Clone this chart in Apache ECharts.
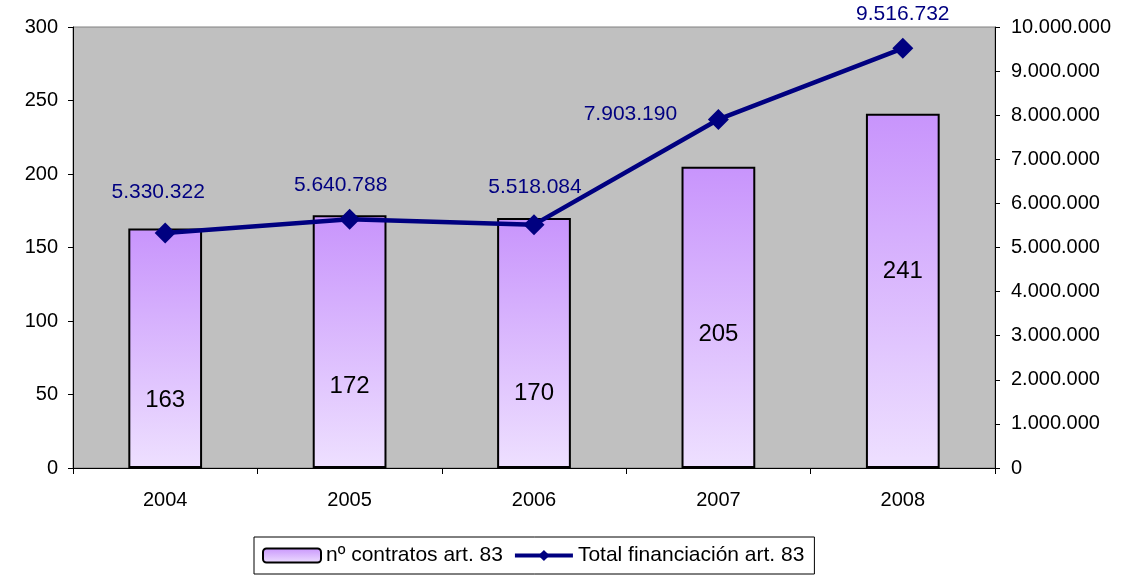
<!DOCTYPE html>
<html><head><meta charset="utf-8">
<script src="https://cdn.jsdelivr.net/npm/echarts@6/dist/echarts.min.js"></script>
<style>html,body{margin:0;padding:0;background:#fff}#c{width:1131px;height:575px}</style>
</head><body><div id="c"></div>
<script>
const years = ['2004','2005','2006','2007','2008'];
const contratos = [163, 172, 170, 205, 241];
const financiacion = [5330322, 5640788, 5518084, 7903190, 9516732];
const barLabelOffsets = [[0,52],[0,45],[0,50],[0,17],[0,-19]];
const lineLabelOffsets = [[-7,0],[-9,7],[1,4],[-88,36],[0,7]];

function fmt(v){ return String(Math.round(v)).replace(/\B(?=(\d{3})+(?!\d))/g,'.'); }
const FONT = '"Liberation Sans", Arial, sans-serif';
const chart = echarts.init(document.getElementById('c'), null, {renderer:'canvas'});
chart.setOption({
  animation:false,
  textStyle:{fontFamily:FONT},
  grid:{left:73,right:136,top:27,bottom:107,show:true,backgroundColor:'#c0c0c0',borderColor:'#808080',borderWidth:1},
  legend:{
    bottom:1,left:254,
    borderColor:'#000',borderWidth:1,padding:[8,10,8,8],itemGap:10,
    itemWidth:58,itemHeight:14,
    textStyle:{fontSize:21,color:'#000',fontFamily:FONT},
    data:[{name:'nº contratos art. 83'},{name:'Total financiación art. 83',lineStyle:{width:4}}]
  },
  xAxis:{type:'category',data:years,
    axisLine:{lineStyle:{color:'#000',width:1}},
    axisTick:{show:true,length:6,lineStyle:{color:'#000'},alignWithLabel:false},
    axisLabel:{fontSize:20,color:'#000',margin:22,fontFamily:FONT}},
  yAxis:[
    {type:'value',min:0,max:300,interval:50,
      axisLine:{show:true,lineStyle:{color:'#000'}},
      axisTick:{show:true,length:5,lineStyle:{color:'#000'}},
      splitLine:{show:false},
      axisLabel:{fontSize:20,color:'#000',margin:15,fontFamily:FONT}},
    {type:'value',min:0,max:10000000,interval:1000000,position:'right',
      axisLine:{show:true,lineStyle:{color:'#000'}},
      axisTick:{show:true,length:5,lineStyle:{color:'#000'}},
      splitLine:{show:false},
      axisLabel:{fontSize:20,color:'#000',margin:16,fontFamily:FONT,formatter:fmt}}
  ],
  series:[
    {name:'nº contratos art. 83',type:'bar',barWidth:'40%',yAxisIndex:0,
      itemStyle:{borderColor:'#000',borderWidth:2,
        color:new echarts.graphic.LinearGradient(0,0,0,1,[{offset:0,color:'#c894fc'},{offset:1,color:'#eee0ff'}])},
      data:contratos.map((v,i)=>({value:v,label:{offset:barLabelOffsets[i]}})),
      label:{show:true,position:'inside',fontSize:24,color:'#000',fontFamily:FONT}},
    {name:'Total financiación art. 83',type:'line',yAxisIndex:1,
      lineStyle:{color:'#000080',width:4.5},itemStyle:{color:'#000080'},
      symbol:'diamond',symbolSize:21,
      data:financiacion.map((v,i)=>({value:v,label:{offset:lineLabelOffsets[i]}})),
      label:{show:true,position:'top',distance:20,fontSize:21,color:'#000080',fontFamily:FONT,formatter:p=>fmt(p.value)}}
  ]
});
</script></body></html>
